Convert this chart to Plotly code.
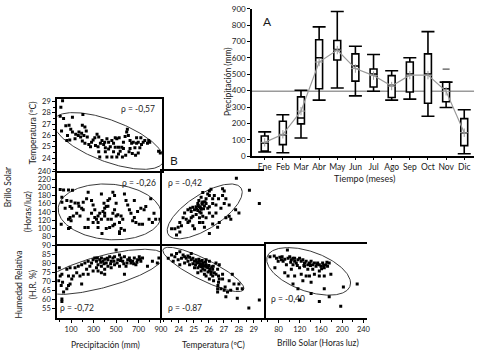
import numpy as np
import plotly.graph_objects as go

W, H = 483, 357

# ---------------- Panel A data (monthly precipitation, mm) ----------------
months = ["Ene", "Feb", "Mar", "Abr", "May", "Jun", "Jul", "Ago", "Sep", "Oct", "Nov", "Dic"]
whisker_low = [25, 20, 110, 342, 416, 368, 396, 342, 348, 243, 297, 14]
box_q1 = [30, 70, 197, 412, 587, 458, 422, 358, 392, 323, 332, 64]
box_median = [80, 130, 233, 601, 651, 551, 502, 432, 502, 502, 412, 143]
box_q3 = [123, 213, 362, 711, 707, 625, 532, 492, 575, 625, 452, 229]
whisker_high = [148, 253, 402, 790, 884, 671, 621, 522, 601, 761, 452, 283]
monthly_mean = [84, 133, 275, 575, 648, 535, 492, 428, 495, 495, 396, 143]
reference_level = 396
outlier_month = ["Nov"]
outlier_value = [532]
precip_ticks_A = [0, 100, 200, 300, 400, 500, 600, 700, 800, 900]

# ---------------- Panel B data (scatter matrix) ----------------
precip_temp_pairs = [
    (24, 29.06), (9, 28.5), (3, 27.7), (33, 27.5), (15, 26.4), (112, 27.6), (205, 27.85), (53, 26.85),
    (82, 26.9), (97, 26.55), (68, 26.0), (112, 26.3), (141, 26.1), (62, 25.55), (88, 25.6), (164, 26.0),
    (135, 25.7), (194, 26.2), (200, 26.9), (223, 26.75), (235, 26.4), (214, 26.0), (244, 25.85), (200, 25.5),
    (223, 25.3), (258, 25.2), (282, 25.4), (296, 25.6), (317, 25.1), (331, 26.1), (346, 25.85), (340, 25.0),
    (361, 25.3), (375, 25.55), (346, 24.55), (355, 24.1), (390, 25.2), (405, 24.9), (399, 25.4), (419, 25.7),
    (434, 24.8), (449, 25.0), (463, 25.55), (478, 25.3), (493, 25.8), (507, 25.7), (478, 24.55), (463, 24.1),
    (507, 24.1), (522, 24.35), (537, 24.6), (551, 24.95), (566, 25.4), (581, 25.9), (595, 26.3), (610, 26.0),
    (625, 25.55), (639, 25.3), (654, 25.4), (668, 24.9), (683, 25.3), (698, 25.4), (712, 24.9), (727, 25.2),
    (742, 25.4), (756, 25.55), (780, 25.3), (800, 25.4), (879, 24.6), (894, 24.45), (557, 24.1), (586, 24.25),
    (616, 24.55), (645, 24.4), (674, 24.25), (698, 24.45), (601, 26.55), (522, 24.95), (566, 24.85), (625, 24.85),
    (419, 24.1), (405, 24.55), (311, 25.8), (170, 26.3), (185, 25.85), (273, 25.0), (434, 25.4), (528, 25.8),
    (493, 24.95), (683, 25.8), (721, 25.8), (791, 25.55),
]
precip_brillo_pairs = [
    (3, 195), (33, 194), (77, 194), (112, 193), (18, 176), (62, 168), (18, 164), (100, 166), (135, 162),
    (164, 161), (91, 153), (47, 149), (106, 149), (170, 154), (208, 164), (238, 172), (252, 188), (282, 168),
    (296, 157), (194, 149), (208, 145), (150, 137), (91, 126), (77, 122), (100, 118), (120, 130), (179, 130),
    (223, 102), (252, 102), (91, 102), (311, 145), (340, 130), (370, 122), (326, 122), (311, 126), (355, 137),
    (384, 141), (399, 149), (413, 153), (428, 154), (393, 161), (428, 168), (370, 184), (443, 172), (472, 188),
    (487, 180), (501, 161), (487, 145), (472, 137), (501, 130), (516, 133), (545, 130), (560, 122), (531, 114),
    (487, 110), (472, 106), (443, 102), (413, 99), (340, 102), (545, 99), (575, 184), (589, 168), (604, 157),
    (619, 145), (633, 137), (663, 126), (648, 118), (677, 114), (707, 110), (736, 110), (692, 141), (721, 149),
    (663, 168), (750, 145), (765, 153), (794, 122), (824, 114), (853, 122), (809, 172), (838, 137), (575, 95),
    (531, 91), (428, 122), (399, 130), (282, 137), (252, 122), (296, 114), (340, 114), (458, 122), (399, 137),
    (375, 87), (531, 87), (12, 110), (77, 99), (891, 122),
]
temp_brillo_pairs = [
    (27.84, 222.6), (28.71, 193), (29.37, 160.5), (26.92, 197), (27.03, 191.5), (26.04, 191.5), (25.93, 183.8),
    (25.6, 187.7), (26.04, 180), (26.37, 180), (26.26, 172), (26.65, 172), (25.49, 176), (25.82, 172),
    (25.34, 168), (25.6, 164.4), (25.27, 160.6), (25.56, 159), (25.71, 154.4), (25.38, 152.8), (25.16, 152.8),
    (24.94, 151.3), (24.77, 148.9), (25.05, 145), (24.61, 145), (24.83, 141.2), (25.27, 143.5), (25.49, 146.6),
    (25.93, 148.9), (26.26, 160.6), (26.48, 156.7), (26.81, 148.9), (26.04, 137.3), (26.26, 129.6),
    (25.82, 125.7), (25.6, 129.6), (25.38, 125.7), (24.39, 137.3), (24.29, 125.7), (24.5, 121.8), (24.72, 117.9),
    (24.07, 114), (24.18, 106.3), (23.96, 102.4), (23.74, 98.5), (23.52, 98.5), (24.07, 90.8), (23.85, 83),
    (24.94, 106.3), (25.05, 98.5), (25.6, 114), (25.71, 102.4), (26.04, 86.9), (26.59, 102.4), (26.7, 114),
    (27.14, 125.7), (27.36, 129.6), (27.47, 121.8), (27.79, 145), (28.01, 137.3), (27.03, 160.6), (27.14, 172),
    (26.92, 180), (25.16, 133.4), (24.94, 129.6), (24.61, 114), (26.48, 137.3), (25.38, 114), (26.26, 110.2),
    (27.36, 156.7), (25.82, 160.6), (26.04, 152.8), (25.49, 137.3), (24.83, 125.7), (26.15, 195.4),
    (25.3, 156), (25.45, 150), (25.55, 162), (25.65, 148), (25.4, 140), (25.2, 147), (25.75, 165),
]
precip_hum_pairs = [
    (-5, 77.6), (18, 74.0), (3, 73.1), (-11, 70.5), (24, 69.6), (12, 67.8), (77, 67.8), (62, 66.1), (91, 68.7),
    (33, 64.3), (18, 60.4), (18, 59.0), (62, 76.7), (91, 77.6), (77, 73.1), (120, 73.1), (150, 74.9), (164, 78.4),
    (194, 79.3), (179, 73.1), (208, 74.0), (194, 68.7), (223, 80.2), (252, 81.1), (238, 76.7), (267, 78.4),
    (282, 80.2), (296, 82.0), (311, 82.9), (326, 81.1), (340, 79.3), (326, 77.6), (355, 82.0), (370, 82.9),
    (384, 81.1), (399, 82.3), (413, 80.2), (428, 82.0), (443, 83.7), (457, 81.1), (472, 82.9), (487, 83.7),
    (501, 87.3), (516, 82.0), (531, 84.6), (545, 82.9), (560, 81.1), (575, 83.7), (589, 78.4), (604, 82.0),
    (619, 82.9), (633, 80.2), (648, 81.1), (663, 82.9), (677, 79.3), (692, 82.0), (707, 83.7), (721, 81.1),
    (736, 82.9), (780, 78.4), (824, 81.1), (868, 80.2), (340, 75.8), (370, 74.9), (399, 76.7), (428, 78.4),
    (457, 77.6), (487, 79.3), (531, 78.4), (575, 74.0), (370, 78.4), (399, 74.0), (296, 75.8), (252, 74.0),
    (135, 77.6), (106, 71.4), (334, 82.9), (364, 80.6), (393, 79.85), (422, 82.85), (452, 79.85), (481, 81.1),
    (510, 80.2), (540, 81.6), (569, 79.85), (598, 80.2), (627, 81.6), (657, 79.85), (686, 80.6), (715, 82.3),
    (882, 82.9),
]
temp_hum_pairs = [
    (23.30, 82.85), (23.52, 84.6), (23.74, 83.7), (23.85, 85.5), (24.07, 86.4), (24.18, 82.85), (23.96, 82.0),
    (24.29, 84.6), (24.39, 83.7), (24.50, 82.85), (24.61, 84.1), (24.72, 83.4), (24.83, 82.0), (24.61, 81.1),
    (24.94, 82.85), (25.05, 81.1), (25.16, 82.0), (25.27, 80.2), (25.38, 81.1), (25.49, 79.3), (25.38, 78.4),
    (25.6, 80.2), (25.71, 78.4), (25.6, 77.0), (25.82, 79.3), (25.93, 77.6), (25.49, 75.8), (25.27, 77.6),
    (25.12, 79.3), (24.94, 79.85), (24.72, 79.3), (26.04, 75.8), (26.15, 74.0), (26.26, 73.1), (26.37, 74.9),
    (26.48, 74.0), (26.26, 76.7), (26.59, 76.7), (26.65, 73.1), (26.70, 71.4), (26.65, 69.6), (26.61, 67.8),
    (26.59, 66.1), (26.81, 66.1), (27.03, 65.2), (27.25, 64.3), (27.14, 61.7), (27.36, 70.5), (27.57, 74.0),
    (27.68, 68.7), (27.9, 66.1), (28.01, 68.7), (28.23, 66.1), (27.9, 60.8), (28.67, 55.5), (29.37, 59.9),
    (26.04, 81.1), (25.82, 82.0), (24.83, 85.5), (25.05, 77.6), (25.27, 74.9), (25.71, 74.0), (26.48, 80.2),
    (26.70, 79.3), (26.92, 71.4), (26.92, 74.0), (24.07, 79.3), (24.39, 80.2), (23.63, 81.1), (25.82, 73.1),
    (26.04, 71.4), (26.32, 70.5), (26.59, 64.3), (27.09, 67.0), (27.46, 65.2), (25.34, 82.3), (25.43, 79.85),
    (25.56, 81.6), (25.64, 78.8), (25.78, 80.6), (25.86, 78.1), (26.0, 78.8), (26.08, 77.0), (26.2, 78.1),
    (25.21, 80.6), (25.51, 78.1), (25.73, 76.3), (25.95, 75.3), (26.17, 75.3), (26.3, 78.4),
]
brillo_hum_pairs = [
    (63.9, 83.7), (72.0, 84.1), (76.3, 82.85), (82.5, 83.4), (86.8, 83.7), (79.4, 81.1), (88.7, 81.1),
    (96.8, 87.3), (98.0, 82.85), (101.1, 83.7), (104.2, 82.0), (107.3, 82.85), (110.4, 81.1), (94.9, 79.3),
    (107.3, 79.3), (113.5, 80.2), (116.6, 82.0), (119.7, 82.85), (122.8, 81.1), (125.9, 82.0), (129.0, 80.2),
    (132.1, 81.1), (135.2, 79.3), (138.3, 80.2), (141.4, 81.1), (144.5, 79.3), (147.6, 80.2), (150.7, 78.4),
    (153.8, 80.2), (156.9, 79.3), (160.0, 78.4), (163.1, 80.2), (166.2, 77.6), (169.3, 79.3), (172.4, 78.4),
    (175.5, 80.2), (73.2, 77.6), (91.8, 74.9), (98.0, 73.1), (110.4, 73.1), (104.2, 76.7), (122.8, 74.0),
    (132.1, 73.1), (138.3, 73.1), (147.6, 74.0), (156.9, 73.1), (166.2, 73.1), (135.2, 76.7), (119.7, 77.6),
    (141.4, 69.6), (125.9, 70.5), (107.3, 68.7), (116.6, 66.1), (141.4, 63.4), (166.2, 66.1), (175.5, 61.7),
    (178.6, 74.0), (202.2, 67.0), (228.2, 68.7), (156.9, 59.0), (119.7, 59.9), (197.2, 56.4), (129.0, 78.4),
    (144.5, 76.7), (156.9, 75.8), (85.6, 82.0), (91.8, 82.3), (103.0, 80.6), (110.4, 82.85), (115.4, 78.8),
    (127.8, 78.8), (140.2, 78.8), (152.6, 79.5), (165.0, 78.8), (171.2, 80.6), (161.2, 77.0),
]

# ellipse parameters: center x, center y, half-width x, half-height y, phase (deg)
ellipse_precip_temp = (434, 25.51, 492, 2.51, 129.5)
ellipse_precip_brillo = (445, 140, 460, 68.6, 95.7)
ellipse_temp_brillo = (25.73, 141.2, 2.5, 67.4, 46)
ellipse_precip_hum = (372, 75.3, 554, 12.45, 46.4)
ellipse_temp_hum = (25.64, 76.65, 2.70, 12.2, 148.5)
ellipse_brillo_hum = (136.75, 75.6, 79, 13.1, 119.3)

rho_labels = ["ρ = -0,57", "ρ = -0,26", "ρ = -0,42", "ρ = -0,72", "ρ = -0.87", "ρ = -0,40"]

precip_ticks = [100, 300, 500, 700, 900]
temp_ticks = [24, 25, 26, 27, 28, 29]
brillo_x_ticks = [80, 120, 160, 200, 240]
brillo_y_ticks = [80, 100, 120, 140, 160, 180, 200, 220, 240]
hum_ticks = [55, 60, 65, 70, 75, 80, 85, 90]

# ---------------- helpers ----------------
FONT = "Lato, 'Open Sans', sans-serif"
TXT = "#1a1a1a"


def xdom(a, b):
    return [a / W, b / W]


def ydom(top, bottom):
    return [1 - bottom / H, 1 - top / H]


def split(pairs):
    return [p[0] for p in pairs], [p[1] for p in pairs]


def ellipse(params):
    cx, cy, rx, ry, ph = params
    t = np.linspace(0, 2 * np.pi, 241)
    return cx + rx * np.cos(t), cy + ry * np.cos(t + np.radians(ph))


fig = go.Figure()

# ---------------- Panel A traces ----------------
fig.add_trace(go.Scatter(
    x=months, y=whisker_low, mode="markers", marker=dict(color="rgba(0,0,0,0)", size=1),
    error_y=dict(type="data", symmetric=False,
                 array=[h - l for h, l in zip(whisker_high, whisker_low)],
                 arrayminus=[0] * len(months), width=6.5, thickness=1.6, color="black"),
    xaxis="x", yaxis="y", hoverinfo="skip"))
fig.add_trace(go.Box(
    x=months, q1=box_q1, median=box_median, q3=box_q3, lowerfence=box_q1, upperfence=box_q3,
    width=0.38, fillcolor="white", line=dict(color="black", width=1.6), whiskerwidth=0,
    boxpoints=False, xaxis="x", yaxis="y2"))
fig.add_trace(go.Scatter(
    x=months, y=monthly_mean, mode="lines+markers",
    line=dict(color="#9a9a9a", width=1.2),
    marker=dict(symbol="cross-thin", size=6, line=dict(color="#9a9a9a", width=1)),
    xaxis="x", yaxis="y2"))
fig.add_trace(go.Scatter(
    x=outlier_month, y=outlier_value, mode="markers",
    marker=dict(symbol="line-ew", size=5, line=dict(color="#555", width=1.2)),
    xaxis="x", yaxis="y2"))

# ---------------- Panel B traces ----------------
panels = [
    (precip_temp_pairs, ellipse_precip_temp, "x3", "y3"),
    (precip_brillo_pairs, ellipse_precip_brillo, "x4", "y4"),
    (temp_brillo_pairs, ellipse_temp_brillo, "x5", "y5"),
    (precip_hum_pairs, ellipse_precip_hum, "x6", "y6"),
    (temp_hum_pairs, ellipse_temp_hum, "x7", "y7"),
    (brillo_hum_pairs, ellipse_brillo_hum, "x8", "y8"),
]
for pairs, ell, xa, ya in panels:
    ex, ey = ellipse(ell)
    fig.add_trace(go.Scatter(x=ex, y=ey, mode="lines", line=dict(color="#3a3a3a", width=1),
                             xaxis=xa, yaxis=ya, hoverinfo="skip"))
    px_, py_ = split(pairs)
    fig.add_trace(go.Scatter(x=px_, y=py_, mode="markers",
                             marker=dict(symbol="square", size=3, color="black"),
                             xaxis=xa, yaxis=ya))

# ---------------- layout ----------------
COL1, COL2, COL3 = xdom(58, 164), xdom(164, 267), xdom(267, 372)
ROW1, ROW2, ROW3 = ydom(97, 171), ydom(171, 246.5), ydom(246.5, 322)
PRECIP_R, TEMPX_R, BRILLOX_R = [-23, 909], [22.88, 29.66], [52.1, 247.4]
TEMPY_R, BRILLOY_R, HUM_R = [22.88, 29.26], [60.5, 241.2], [50, 90.5]

base = dict(linecolor="black", linewidth=2, showgrid=False, zeroline=False, fixedrange=True)
tickf = dict(family=FONT, size=7.5, color=TXT)


def ax(tickvals=None, minor=None, line=True, mirror=False, **kw):
    d = dict(base)
    d.update(showline=line, mirror=mirror)
    if tickvals is None:
        d.update(showticklabels=False, ticks="")
    else:
        d.update(tickmode="array", tickvals=tickvals, ticks="outside", ticklen=3, tickwidth=1,
                 tickcolor="black", tickfont=tickf)
        if minor:
            d["minor"] = dict(ticks="outside", dtick=minor, ticklen=2, tickwidth=1, tickcolor="black")
    d.update(kw)
    return d


layout = dict(
    width=W, height=H, margin=dict(l=0, r=0, t=0, b=0), autosize=False,
    paper_bgcolor="white", plot_bgcolor="white", showlegend=False,
    font=dict(family=FONT, size=9, color=TXT),
    xaxis=dict(domain=xdom(255, 480), range=[-0.71, 11.54], anchor="y", showline=True,
               linecolor="black", linewidth=1.5, showgrid=False, zeroline=False,
               ticks="outside", ticklen=2, tickcolor="black",
               tickfont=dict(family=FONT, size=8.5, color=TXT), fixedrange=True),
    yaxis=dict(domain=ydom(5, 156), range=[0, 900], anchor="x", showline=True,
               linecolor="black", linewidth=1.5, showgrid=False, zeroline=False,
               tickmode="array", tickvals=precip_ticks_A, ticks="outside", ticklen=3,
               tickcolor="black", tickfont=dict(family=FONT, size=8, color=TXT), fixedrange=True),
    yaxis2=dict(overlaying="y", range=[0, 900], visible=False, anchor="x", fixedrange=True),
    # row 1 : full frame
    xaxis3=ax(domain=COL1, range=PRECIP_R, anchor="y3", mirror=True),
    yaxis3=ax(temp_ticks, minor=0.5, domain=ROW1, range=TEMPY_R, anchor="x3", mirror=True),
    # row 2
    xaxis4=ax(domain=COL1, range=PRECIP_R, anchor="y4"),
    yaxis4=ax(brillo_y_ticks, domain=ROW2, range=BRILLOY_R, anchor="x4"),
    xaxis5=ax(domain=COL2, range=TEMPX_R, anchor="y5", mirror=True),
    yaxis5=ax(domain=ROW2, range=BRILLOY_R, anchor="x5"),
    # row 3
    xaxis6=ax(precip_ticks, minor=100, domain=COL1, range=PRECIP_R, anchor="y6"),
    yaxis6=ax(hum_ticks, domain=ROW3, range=HUM_R, anchor="x6"),
    xaxis7=ax(temp_ticks, minor=0.5, domain=COL2, range=TEMPX_R, anchor="y7"),
    yaxis7=ax(domain=ROW3, range=HUM_R, anchor="x7", mirror=True),
    xaxis8=ax(brillo_x_ticks, minor=20, domain=COL3, range=BRILLOX_R, anchor="y8", mirror=True),
    yaxis8=ax(domain=ROW3, range=HUM_R, anchor="x8", line=False),
)

layout["shapes"] = [dict(type="line", xref="x domain", yref="y", x0=0, x1=1,
                         y0=reference_level, y1=reference_level, layer="below",
                         line=dict(color="#9a9a9a", width=1.5))]


def ann(text, x, y, size=9, angle=0, **kw):
    d = dict(text=text, x=x / W, y=1 - y / H, xref="paper", yref="paper", showarrow=False,
             xanchor="center", yanchor="middle", textangle=angle,
             font=dict(family=FONT, size=size, color=TXT))
    d.update(kw)
    return d


annotations = [
    ann("A", 271, 18, size=12),
    ann("B", 176, 161, size=12),
    ann("Precipitación (mm)", 231, 80, size=8.5, angle=-90),
    ann("Tiempo (meses)", 369, 179, size=9),
    ann("Temperatura (ºC)", 33, 132, size=8.5, angle=-90),
    ann("Brillo Solar", 8, 187, size=8.5, angle=-90),
    ann("(Horas/luz)", 28, 213, size=8.5, angle=-90),
    ann("Humedad Relativa", 19, 288, size=8.5, angle=-90),
    ann("(H.R. %)", 33, 288, size=8.5, angle=-90),
    ann("Precipitación (mm)", 107, 350, size=8.5),
    ann("Temperatura (ºC)", 216, 350, size=8.5),
    ann("Brillo Solar (Horas luz)", 322, 348, size=8.5),
]
rho_pos = [(140, 108), (141, 184), (187, 184), (78, 312), (187, 312), (292, 303)]
for lab, (x, y) in zip(rho_labels, rho_pos):
    annotations.append(ann(lab, x, y, size=8.5))
layout["annotations"] = annotations

fig.update_layout(**layout)
fig.write_html(
    "out.html",
    config={"displayModeBar": False, "staticPlot": True},
    post_script="document.body.style.margin='0';document.body.style.padding='0';"
                "document.body.style.overflow='hidden';",
)
